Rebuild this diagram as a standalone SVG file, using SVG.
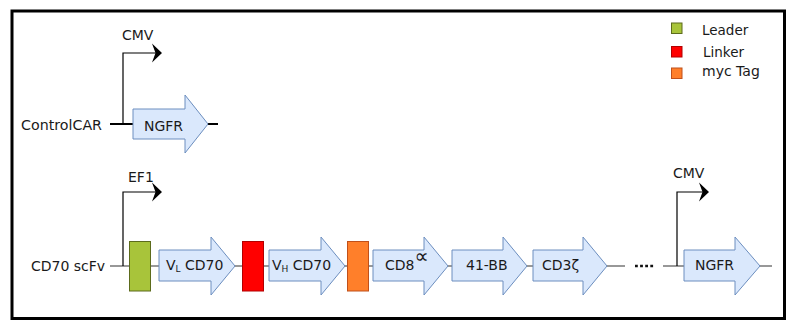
<svg xmlns="http://www.w3.org/2000/svg" width="787" height="327" viewBox="0 0 787 327">
<defs>
<style>
text{font-family:"DejaVu Sans","Verdana",sans-serif;font-size:14px;fill:#1a1a1a}
.gene{fill:#dae8fc;stroke:#6c8ebf;stroke-width:1}
.bb1{stroke:#000;stroke-width:2;fill:none}
.bb2{stroke:#333;stroke-width:1.2;fill:none}
.prom{stroke:#000;stroke-width:1.2;fill:none}
.head{fill:#000}
.leader{fill:#a8c43a;stroke:#5c6b1c;stroke-width:1}
.linker{fill:#ff0000;stroke:#b20000;stroke-width:1}
.myc{fill:#ff7f2a;stroke:#c0501a;stroke-width:1}
</style>
</defs>
<rect x="12" y="11" width="772.5" height="307.5" fill="#fff" stroke="#000" stroke-width="3"/>

<g id="connectors">
<line class="bb1" x1="110" y1="124" x2="133" y2="124"/>
<line class="bb1" x1="208" y1="124" x2="218" y2="124"/>
<line class="bb2" x1="110" y1="266" x2="625" y2="266"/>
<line x1="635" y1="266" x2="654" y2="266" stroke="#111" stroke-width="2.6" stroke-dasharray="2.8 2.3"/>
<line class="bb2" x1="663" y1="266" x2="772" y2="266"/>
</g>

<g id="promoter-cmv1">
<path class="prom" d="M123,124 V53 H157"/>
<path class="head" d="M152,43.5 L162,53 L152,62.5 L155.5,53 Z"/>
<text x="122" y="40">CMV</text>
</g>
<g id="promoter-ef1">
<path class="prom" d="M123,266 V192 H157"/>
<path class="head" d="M152,182.5 L162,192 L152,201.5 L155.5,192 Z"/>
<text x="128" y="182">EF1</text>
</g>
<g id="promoter-cmv2">
<path class="prom" d="M677,266 V192 H704"/>
<path class="head" d="M699,182.5 L709,192 L699,201.5 L702.5,192 Z"/>
<text x="673" y="177.5">CMV</text>
</g>

<text x="21" y="129.5" textLength="81" lengthAdjust="spacingAndGlyphs">ControlCAR</text>
<text x="31" y="271">CD70 scFv</text>

<g id="ngfr1">
<path class="gene" d="M133,109 H185 V95 L208,124 L185,153 V139 H133 Z"/>
<text x="144" y="131">NGFR</text>
</g>

<g id="leader">
<rect class="leader" x="129.5" y="241.5" width="21" height="49.5"/>
</g>
<g id="vl">
<path class="gene" d="M159,250 H211 V237 L235,266 L211,295 V281 H159 Z"/>
<text x="166" y="270">V<tspan font-size="9" dy="2">L</tspan><tspan dy="-2"> CD70</tspan></text>
</g>
<g id="linker">
<rect class="linker" x="242.5" y="241.5" width="21" height="49.5"/>
</g>
<g id="vh">
<path class="gene" d="M269,250 H321 V237 L345,266 L321,295 V281 H269 Z"/>
<text x="272" y="270">V<tspan font-size="9" dy="2">H</tspan><tspan dy="-2"> CD70</tspan></text>
</g>
<g id="myc">
<rect class="myc" x="347.5" y="241.5" width="21" height="49.5"/>
</g>
<g id="cd8a">
<path class="gene" d="M373,250 H424 V237 L448,266 L424,295 V281 H373 Z"/>
<text x="385" y="270">CD8<tspan font-size="20" dy="-7">∝</tspan></text>
</g>
<g id="bb41">
<path class="gene" d="M452,250 H503 V237 L527,266 L503,295 V281 H452 Z"/>
<text x="466" y="270">41-BB</text>
</g>
<g id="cd3z">
<path class="gene" d="M533,250 H583 V237 L607,266 L583,295 V281 H533 Z"/>
<text x="542" y="270">CD3ζ</text>
</g>
<g id="ngfr2">
<path class="gene" d="M684,250 H735 V237 L760,266 L735,295 V281 H684 Z"/>
<text x="695" y="270">NGFR</text>
</g>

<g id="legend">
<rect class="leader" x="671.5" y="23" width="10.5" height="10.5"/>
<text x="702" y="34.5" style="font-size:13.5px">Leader</text>
<rect class="linker" x="671.5" y="46.5" width="10.5" height="10.5"/>
<text x="703" y="56.5" style="font-size:13.5px">Linker</text>
<rect class="myc" x="671.5" y="68" width="10.5" height="10.5"/>
<text x="702" y="76" style="font-size:14px">myc Tag</text>
</g>
</svg>
